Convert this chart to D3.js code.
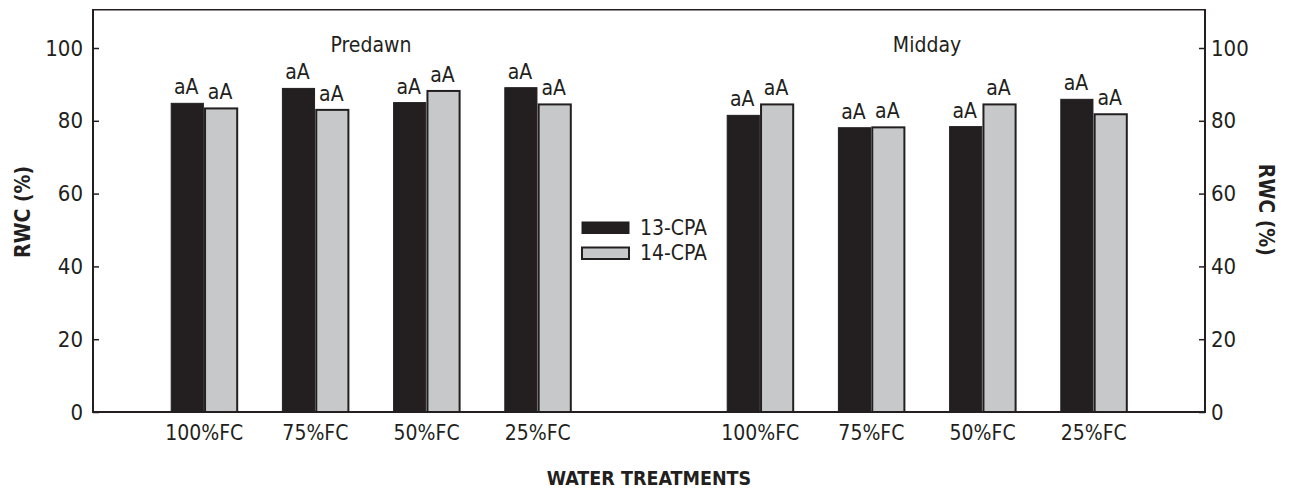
<!DOCTYPE html>
<html>
<head>
<meta charset="utf-8">
<script src="https://cdn.jsdelivr.net/npm/d3@7/dist/d3.min.js"></script>
<style>
  html, body { margin: 0; padding: 0; background: #fff; }
  svg { display: block; }
  text { font-family: 'Liberation Sans Narrow', 'Arial Narrow', 'DejaVu Sans Condensed', sans-serif; fill: #231f20; }
</style>
</head>
<body>
<svg id="chart" width="1290" height="491"></svg>
<script>
// ---- data ----
const categories = ["100%FC", "75%FC", "50%FC", "25%FC"];
const periods = ["Predawn", "Midday"];
const series = ["13-CPA", "14-CPA"];
const predawn13 = [84.8, 88.9, 85.0, 89.1];
const predawn14 = [83.4, 83.0, 88.2, 84.5];
const midday13  = [81.5, 78.1, 78.4, 85.9];
const midday14  = [84.5, 78.2, 84.5, 81.8];
const predawnSig13 = ["aA", "aA", "aA", "aA"];
const predawnSig14 = ["aA", "aA", "aA", "aA"];
const middaySig13  = ["aA", "aA", "aA", "aA"];
const middaySig14  = ["aA", "aA", "aA", "aA"];
const yTicks = [0, 20, 40, 60, 80, 100];

// ---- layout ----
const ink = "#231f20";
const grey = "#c6c8ca";
const left = 93, right = 1205, base = 412;
const svg = d3.select("#chart");

const y = d3.scaleLinear().domain([0, 100]).range([base, 48]);
const slot = d3.scaleLinear().domain([0, 10]).range([left, right]);
const inner = d3.scaleBand().domain(series).range([-33, 33]).paddingInner(0.05);

const values = {
  Predawn: [predawn13, predawn14],
  Midday: [midday13, midday14]
};
const sigs = {
  Predawn: [predawnSig13, predawnSig14],
  Midday: [middaySig13, middaySig14]
};

const bars = [];
periods.forEach((p, pi) => {
  categories.forEach((c, ci) => {
    series.forEach((s, si) => {
      bars.push({ period: p, cat: c, series: s, si,
        slot: pi * 5 + ci + 1,
        value: values[p][si][ci],
        sig: sigs[p][si][ci] });
    });
  });
});

// bars
svg.append("g").selectAll("rect").data(bars).join("rect")
  .attr("x", d => slot(d.slot) + inner(d.series))
  .attr("y", d => y(d.value))
  .attr("width", inner.bandwidth())
  .attr("height", d => y(0) - y(d.value))
  .attr("fill", d => d.si === 0 ? ink : grey)
  .attr("stroke", ink)
  .attr("stroke-width", d => d.si === 0 ? 1 : 2);

// significance labels
svg.append("g").selectAll("text").data(bars).join("text")
  .attr("x", d => slot(d.slot) + inner(d.series) + inner.bandwidth() / 2 - 1)
  .attr("y", d => y(d.value) - 9)
  .attr("text-anchor", "middle")
  .attr("font-size", 21)
  .text(d => d.sig);

// axes
const yAxisL = d3.axisLeft(y).tickValues(yTicks).tickSizeInner(-6).tickSizeOuter(0).tickPadding(10);
const yAxisR = d3.axisRight(y).tickValues(yTicks).tickSizeInner(-6).tickSizeOuter(0).tickPadding(6);

const gL = svg.append("g").attr("transform", `translate(${left},0)`).call(yAxisL);
const gR = svg.append("g").attr("transform", `translate(${right},0)`).call(yAxisR);
[gL, gR].forEach(g => {
  g.select(".domain").remove();
  g.selectAll(".tick line").attr("stroke", ink).attr("stroke-width", 1.5);
  g.selectAll(".tick text").attr("font-size", 22).style("font-family", null).attr("fill", ink);
  g.attr("font-family", null);
});

const yTop = y(110.5);
// frame
svg.append("line").attr("x1", left).attr("x2", left).attr("y1", yTop).attr("y2", base)
  .attr("stroke", ink).attr("stroke-width", 2);
svg.append("line").attr("x1", right).attr("x2", right).attr("y1", yTop).attr("y2", base)
  .attr("stroke", ink).attr("stroke-width", 2);
svg.append("line").attr("x1", left - 1).attr("x2", right + 1).attr("y1", yTop).attr("y2", yTop)
  .attr("stroke", ink).attr("stroke-width", 1.5);
svg.append("line").attr("x1", left - 1).attr("x2", right + 1).attr("y1", base).attr("y2", base)
  .attr("stroke", ink).attr("stroke-width", 2);

// category labels
const catLabels = [];
periods.forEach((p, pi) => categories.forEach((c, ci) => catLabels.push({ c, slot: pi * 5 + ci + 1 })));
svg.append("g").selectAll("text").data(catLabels).join("text")
  .attr("x", d => slot(d.slot))
  .attr("y", 440)
  .attr("text-anchor", "middle")
  .attr("font-size", 21)
  .text(d => d.c);

// period titles
svg.append("g").selectAll("text").data(periods).join("text")
  .attr("x", (d, i) => (slot(i * 5 + 1) + slot(i * 5 + 4)) / 2)
  .attr("y", 52)
  .attr("text-anchor", "middle")
  .attr("font-size", 21)
  .text(d => d);

// axis titles
svg.append("text")
  .attr("transform", `translate(30,${(y(0) + y(110.5)) / 2 + 1}) rotate(-90)`)
  .attr("text-anchor", "middle")
  .attr("font-size", 21).attr("font-weight", "bold")
  .text("RWC (%)");
svg.append("text")
  .attr("transform", `translate(1259,${(y(0) + y(110.5)) / 2 - 1}) rotate(90)`)
  .attr("text-anchor", "middle")
  .attr("font-size", 21).attr("font-weight", "bold")
  .text("RWC (%)");
svg.append("text")
  .attr("x", (left + right) / 2).attr("y", 485)
  .attr("text-anchor", "middle")
  .attr("font-size", 19.5).attr("font-weight", "bold")
  .text("WATER TREATMENTS");

// legend
const lx = slot(5) - 67;
const legend = svg.append("g").selectAll("g").data(series).join("g")
  .attr("transform", (d, i) => `translate(${lx},${222 + i * 25})`);
legend.append("rect")
  .attr("x", 0).attr("y", (d, i) => i === 0 ? 0 : 0.5)
  .attr("width", 47).attr("height", 11.5)
  .attr("fill", (d, i) => i === 0 ? ink : grey)
  .attr("stroke", ink).attr("stroke-width", (d, i) => i === 0 ? 1 : 2);
legend.append("text")
  .attr("x", 58).attr("y", 13)
  .attr("font-size", 21)
  .text(d => d);
</script>
</body>
</html>
